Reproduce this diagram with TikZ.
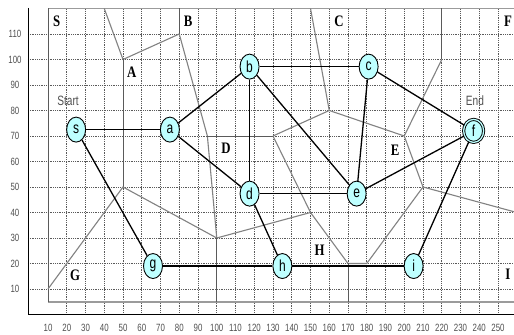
\documentclass[tikz,border=0pt]{standalone}
\usepackage{fontspec}
\setmainfont{Liberation Serif}
\newfontfamily\nodefont[FakeStretch=0.75]{Liberation Sans}
\newfontfamily\regfont[FakeStretch=0.8]{Liberation Serif}
\usetikzlibrary{shapes.geometric}
\definecolor{nodecyan}{RGB}{190,255,255}
\definecolor{regline}{RGB}{130,130,130}
\definecolor{regdark}{RGB}{90,90,90}
\definecolor{gridcol}{RGB}{90,90,90}
\definecolor{labgray}{RGB}{80,80,80}
\tikzset{
  gridline/.style={gridcol, line width=0.6pt, dash pattern=on 0.9pt off 0.9pt},
  regionline/.style={regline, line width=1.1pt},
  regionaxis/.style={regdark, line width=0.9pt},
  frameline/.style={regline!80, line width=1.8pt},
  vtx/.style={ellipse, draw=black, line width=0.9pt, fill=nodecyan, minimum width=19pt, minimum height=25pt, inner sep=0pt, font=\nodefont\fontsize{16}{16}\selectfont},
  endvtx/.style={vtx, double=nodecyan, double distance=1.3pt, minimum width=20pt, minimum height=23pt},
  edge/.style={black, line width=1.3pt},
  reglabel/.style={font=\regfont\bfseries\fontsize{16}{16}\selectfont, inner sep=0pt},
  axlabel/.style={font=\nodefont\fontsize{10.5}{10.5}\selectfont, text=labgray, inner sep=0pt},
  selabel/.style={font=\nodefont\fontsize{13.5}{13.5}\selectfont, text=labgray, inner sep=0pt}
}
\begin{document}
\begin{tikzpicture}[x=1.875pt, y=2.55pt]
\useasboundingbox[fill=white] (-15.6,-8.04) rectangle (258.53,123.33);
% grid
\foreach \yy in {10,20,...,110} \draw[gridline] (-0.67,\yy) -- (258.53,\yy);
\foreach \xx in {20,30,...,250} \draw[gridline] (\xx,0) -- (\xx,120);
% axes
\draw[black, line width=0.9pt] (-0.67,120.2) -- (-0.67,0.1) -- (258.53,0.1);
% axis labels
\foreach \yy in {10,20,...,110} \node[axlabel] (yl\yy) at (-7.6,\yy) {\yy};
\foreach \xx in {10,20,...,250} \node[axlabel] (xl\xx) at (\xx,-5.2) {\xx};
% frame
\draw[frameline] (10,120) -- (258.53,120);
\draw[frameline] (10,5) -- (258.53,5);
\draw[regdark, line width=1pt] (10,120) -- (10,5);
% region boundaries
\draw[regionline] (40,120) -- (50,100) -- (80,110);
\draw[regionaxis] (80,110) -- (80,120);
\draw[regionaxis] (50,100) -- (50,50);
\draw[regionline] (80,110) -- (95,70) -- (100,30);
\draw[regionaxis] (95,70) -- (130,70);
\draw[regionline] (130,70) -- (160,80) -- (200,70) -- (220,100);
\draw[regionaxis] (220,100) -- (220,120);
\draw[regionline] (150,120) -- (160,80);
\draw[regionline] (130,70) -- (150,40) -- (170,20) -- (180,20) -- (210,50) -- (200,70);
\draw[regionline] (210,50) -- (258.53,40.3);
\draw[regionline] (150,40) -- (100,30) -- (50,50) -- (10,10);
\draw[regionaxis] (100,30) -- (100,5);
\draw[regionaxis] (170,20) -- (170,5);
% region labels
\node[reglabel] (rS) at (14.6,114.8) {S};
\node[reglabel] (rB) at (84.7,114.8) {B};
\node[reglabel] (rA) at (54.6,95.2) {A};
\node[reglabel] (rC) at (165.2,114.8) {C};
\node[reglabel] (rF) at (255.3,114.8) {F};
\node[reglabel] (rD) at (104.9,65.2) {D};
\node[reglabel] (rE) at (195.1,64.5) {E};
\node[reglabel] (rG) at (24.4,15.5) {G};
\node[reglabel] (rH) at (154.9,25.3) {H};
\node[reglabel] (rI) at (255.3,15.8) {I};
% start/end labels
\node[selabel] (start) at (20.7,83.8) {Start};
\node[selabel] (end) at (237.7,83.8) {End};
% vertices
\node[vtx] (s) at (25,72.5) {s};
\node[vtx] (a) at (75,72.5) {a};
\node[vtx] (b) at (117.5,97.2) {b};
\node[vtx] (c) at (181,97.2) {c};
\node[endvtx] (f) at (237,72) {f};
\node[vtx] (d) at (117.5,47.4) {d};
\node[vtx] (e) at (174.6,47.4) {e};
\node[vtx] (g) at (66,19) {g};
\node[vtx] (h) at (135,19) {h};
\node[vtx] (i) at (205,19) {i};
% edges
\draw[edge] (s) -- (a);
\draw[edge] (a) -- (b);
\draw[edge] (a) -- (d);
\draw[edge] (b) -- (c);
\draw[edge] (b) -- (d);
\draw[edge] (b) -- (e);
\draw[edge] (c) -- (e);
\draw[edge] (c) -- (f);
\draw[edge] (d) -- (e);
\draw[edge] (d) -- (h);
\draw[edge] (e) -- (f);
\draw[edge] (f) -- (i);
\draw[edge] (s) -- (g);
\draw[edge] (g) -- (h);
\draw[edge] (h) -- (i);
\end{tikzpicture}
\end{document}
